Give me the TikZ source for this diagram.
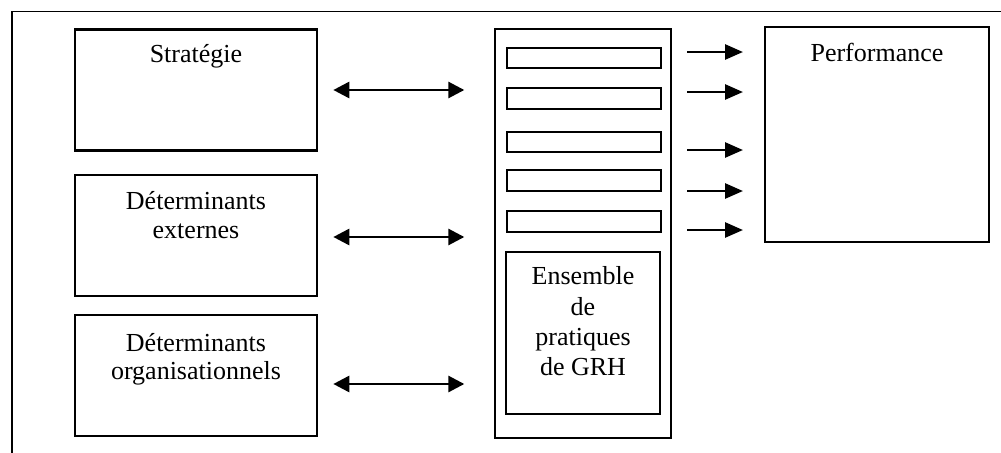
\documentclass[tikz,border=0pt]{standalone}
\usepackage{fontspec}
\setmainfont{Liberation Serif}
\usepackage{tikz}
\usetikzlibrary{positioning,arrows.meta}
\tikzstyle{det}=[draw, minimum height = 2.42cm, minimum width=4.84cm, line width=1.5pt]
\tikzstyle{col}=[draw, minimum height = 8.18cm, minimum width=3.52cm, line width=1.5pt]
\tikzstyle{slot}=[draw, minimum height = 0.41cm, minimum width=3.08cm, inner sep=0pt, line width=1.4pt]
\tikzstyle{ens}=[draw, minimum height = 3.24cm, minimum width=3.08cm, line width=1.5pt]
\tikzstyle{perfbox}=[draw, minimum height = 4.3cm, minimum width=4.48cm, line width=1.5pt]
\tikzstyle{txt}=[align=center]
\tikzstyle{dbl}=[{Triangle[length=0.32cm,width=0.32cm]}-{Triangle[length=0.32cm,width=0.32cm]}, line width=1.6pt]
\tikzstyle{fwd}=[-{Triangle[length=0.36cm,width=0.3cm]}, line width=1.6pt]

\begin{document}
\begin{tikzpicture}[font=\fontsize{14.8pt}{16.2pt}\selectfont]
\useasboundingbox (0,0) rectangle (20.02,-9.06);
\clip (0,0) rectangle (20.02,-9.06);
\draw[line width=1.1pt] (0.24,-0.23) rectangle (21,-10);

% determinants
\node[det] at (3.92,-1.8) (strat) {};
\node[det, below of = strat, node distance = 2.91cm] (detext) {};
\node[det, below of = detext, node distance = 2.8cm] (detorg) {};
\node[txt, below = 0.21cm of strat.north] (strattxt) {Stratégie};
\node[txt, below = 0.24cm of detext.north] (exttxt) {Déterminants\\externes};
\node[txt, below = 0.27cm of detorg.north] (orgtxt) {Déterminants\\organisationnels};

% ensemble de pratiques
\node[col] at (11.66,-4.67) (grh) {};
\node[slot] at (11.68,-1.16) (b1) {};
\node[slot] at (11.68,-1.97) (b2) {};
\node[slot] at (11.68,-2.84) (b3) {};
\node[slot] at (11.68,-3.61) (b4) {};
\node[slot] at (11.68,-4.43) (b5) {};
\node[ens] at (11.66,-6.66) (ens) {};
\node[txt, font=\fontsize{14.8pt}{17.2pt}\selectfont, below = 0.2cm of ens.north] (enstxt) {Ensemble\\de\\pratiques\\de GRH};

\node[perfbox] at (17.54,-2.69) (perf) {};
\node[txt, below = 0.22cm of perf.north] (perftxt) {Performance};

\coordinate (s1) at ([xshift=0.3cm]strat.east);
\coordinate (s2) at ([xshift=2.92cm]strat.east);
\draw[dbl] (s1) -- (s2);
\coordinate (e1) at ([xshift=0.3cm, yshift=-0.03cm]detext.east);
\coordinate (e2) at ([xshift=2.92cm, yshift=-0.03cm]detext.east);
\draw[dbl] (e1) -- (e2);
\coordinate (g1) at ([xshift=0.3cm, yshift=-0.17cm]detorg.east);
\coordinate (g2) at ([xshift=2.92cm, yshift=-0.17cm]detorg.east);
\draw[dbl] (g1) -- (g2);

\coordinate (o1) at (13.74,-1.04);  \coordinate (p1) at (14.86,-1.04);
\coordinate (o2) at (13.74,-1.84);  \coordinate (p2) at (14.86,-1.84);
\coordinate (o3) at (13.74,-3.0);   \coordinate (p3) at (14.86,-3.0);
\coordinate (o4) at (13.74,-3.82);  \coordinate (p4) at (14.86,-3.82);
\coordinate (o5) at (13.74,-4.6);   \coordinate (p5) at (14.86,-4.6);
\draw[fwd] (o1) -- (p1);
\draw[fwd] (o2) -- (p2);
\draw[fwd] (o3) -- (p3);
\draw[fwd] (o4) -- (p4);
\draw[fwd] (o5) -- (p5);
\end{tikzpicture}
\end{document}
